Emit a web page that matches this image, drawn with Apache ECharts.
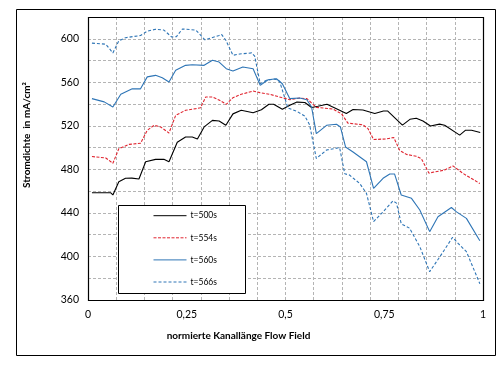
<!DOCTYPE html>
<html>
<head>
<meta charset="utf-8">
<script src="https://cdn.jsdelivr.net/npm/echarts@6/dist/echarts.min.js"></script>
<style>
html,body{margin:0;padding:0;background:#fff;}
#c{width:502px;height:372px;}
</style>
</head>
<body>
<div id="c"></div>
<script>
// ---- data ----
const seriesNames = ['t=500s', 't=554s', 't=560s', 't=566s'];
const xTickLabels = ['0', '0,25', '0,5', '0,75', '1'];

const x500 = [0.01,0.057,0.063,0.078,0.095,0.111,0.129,0.146,0.171,0.192,0.205,0.226,0.247,0.264,0.277,0.294,0.315,0.332,0.349,0.367,0.388,0.418,0.439,0.458,0.470,0.492,0.511,0.529,0.549,0.566,0.582,0.605,0.629,0.654,0.671,0.696,0.726,0.748,0.759,0.796,0.815,0.831,0.848,0.867,0.890,0.903,0.941,0.956,0.971,0.993];
const y500 = [458.6,458.6,456.5,468.7,471.8,472.0,471.2,487.0,489.2,489.2,487.0,505.0,509.7,509.7,508.0,519.0,525.0,524.4,520.5,531.0,534.3,532.0,534.8,539.8,539.8,535.2,538.9,541.8,541.5,536.8,538.0,539.8,535.8,531.3,535.0,534.5,531.3,533.6,533.6,520.7,526.0,527.0,524.4,519.8,521.6,520.5,511.5,516.0,516.0,513.8];

const x554 = [0.01,0.045,0.063,0.078,0.104,0.133,0.150,0.167,0.184,0.205,0.222,0.247,0.273,0.285,0.298,0.315,0.333,0.350,0.367,0.388,0.418,0.435,0.460,0.490,0.511,0.536,0.554,0.578,0.620,0.642,0.658,0.696,0.709,0.723,0.755,0.774,0.789,0.806,0.831,0.844,0.863,0.903,0.924,0.949,0.992];
const y554 = [491.8,490.5,485.6,499.0,503.0,504.0,515.9,520.5,519.0,513.4,529.7,534.3,535.8,536.7,546.5,546.5,543.5,539.8,545.9,549.0,552.0,550.5,549.0,546.0,544.0,545.5,545.0,537.0,535.5,531.0,522.5,521.0,517.4,507.4,508.0,509.3,497.5,493.8,492.0,489.8,476.6,479.4,483.2,476.4,467.0];

const x560 = [0.01,0.041,0.063,0.083,0.112,0.133,0.150,0.171,0.188,0.205,0.222,0.247,0.264,0.294,0.315,0.332,0.350,0.367,0.392,0.418,0.436,0.456,0.477,0.492,0.511,0.536,0.554,0.566,0.578,0.604,0.629,0.639,0.652,0.671,0.705,0.723,0.747,0.764,0.776,0.793,0.819,0.840,0.865,0.886,0.920,0.933,0.958,0.992];
const y560 = [545.0,542.0,537.3,549.0,554.0,554.0,565.0,566.4,564.2,560.3,571.0,575.6,576.2,575.6,580.2,578.6,572.5,570.4,574.0,572.5,557.2,562.4,563.3,558.7,545.0,545.6,544.0,537.3,512.8,520.5,521.4,519.0,500.6,496.0,487.0,462.6,471.8,475.8,475.8,456.5,453.4,442.7,422.8,436.5,445.0,441.0,435.0,414.5];

const x566 = [0.01,0.045,0.063,0.078,0.095,0.133,0.150,0.171,0.192,0.212,0.224,0.239,0.273,0.296,0.332,0.338,0.349,0.367,0.384,0.414,0.422,0.436,0.452,0.473,0.485,0.506,0.528,0.549,0.561,0.578,0.604,0.637,0.650,0.662,0.688,0.705,0.723,0.747,0.772,0.781,0.793,0.814,0.840,0.865,0.891,0.923,0.937,0.958,0.992];
const y566 = [596.0,595.0,587.0,598.0,601.0,603.0,607.0,608.7,608.0,601.6,602.0,609.0,608.0,599.0,603.0,604.0,598.6,584.8,586.0,587.0,584.0,558.7,562.0,563.0,561.0,536.5,533.5,529.0,521.0,490.0,497.8,500.0,476.0,474.8,467.0,458.0,432.0,441.0,451.0,449.0,430.0,426.0,409.0,386.0,399.8,417.6,412.0,404.4,375.0];

const colors = ['#000000', '#e0242f', '#2e75b6', '#2e75b6'];
const dashes = ['solid', [3, 1.5], 'solid', [3, 2]];

function pairs(xs, ys) { return xs.map((x, i) => [x, ys[i]]); }
const allData = [pairs(x500, y500), pairs(x554, y554), pairs(x560, y560), pairs(x566, y566)];

const FONT = 'Lato, "Liberation Sans", sans-serif';
const chart = echarts.init(document.getElementById('c'), null, {renderer: 'canvas'});

const option = {
  animation: false,
  backgroundColor: '#ffffff',
  grid: {left: 88, right: 19, top: 17, bottom: 72, show: false},
  xAxis: [
    {
      type: 'value', min: 0, max: 1, interval: 0.25,
      axisLine: {show: false}, axisTick: {show: false}, splitLine: {show: false},
      axisLabel: {
        margin: 9, color: '#000', fontFamily: FONT, fontSize: 10.5,
        formatter: v => xTickLabels[Math.round(v / 0.25)]
      }
    },
    {
      type: 'value', min: 0, max: 14, interval: 1, position: 'top',
      axisLine: {show: false}, axisTick: {show: false}, axisLabel: {show: false},
      splitLine: {show: true, lineStyle: {color: '#b4b4b4', type: [3, 2], width: 1}}
    }
  ],
  yAxis: {
    type: 'value', min: 360, max: 620, interval: 20,
    axisLine: {show: false}, axisTick: {show: false},
    axisLabel: {
      margin: 9, color: '#000', fontFamily: FONT, fontSize: 10.5,
      formatter: v => (v % 40 === 0 ? String(v) : '')
    },
    splitLine: {show: true, lineStyle: {color: '#b4b4b4', type: [3, 2], width: 1}}
  },
  legend: {
    orient: 'vertical', left: 153, top: 210.7, padding: 0,
    itemWidth: 33, itemHeight: 10, itemGap: 12.1,
    data: seriesNames,
    itemStyle: {opacity: 0},
    lineStyle: {width: 1},
    textStyle: {color: '#000', fontFamily: FONT, fontSize: 8.5, lineHeight: 10, padding: [0, 0, 0, -1]},
    z: 20
  },
  graphic: [
    {type: 'rect', z: 0, shape: {x: 16.5, y: 9.5, width: 479, height: 346},
      style: {fill: 'none', stroke: '#000', lineWidth: 1}},
    {type: 'rect', z: 10, shape: {x: 118.5, y: 205.5, width: 127, height: 88},
      style: {fill: '#fff', stroke: '#000', lineWidth: 1}},
    {type: 'rect', z: 11, shape: {x: 88.5, y: 17.5, width: 395, height: 283},
      style: {fill: 'none', stroke: '#000', lineWidth: 1.2}},
    {type: 'text', z: 11, x: 27, y: 135, rotation: Math.PI / 2,
      style: {text: 'Stromdichte  in mA/cm²', font: 'bold 10px ' + FONT, fill: '#000',
        align: 'center', verticalAlign: 'middle'}},
    {type: 'text', z: 11, x: 238.5, y: 335.5,
      style: {text: 'normierte Kanallänge Flow Field', font: 'bold 10px ' + FONT, fill: '#000',
        align: 'center', verticalAlign: 'middle'}}
  ],
  series: seriesNames.map((n, i) => ({
    name: n, type: 'line', xAxisIndex: 0, yAxisIndex: 0,
    data: allData[i], showSymbol: false, symbol: 'none',
    lineStyle: {color: colors[i], width: 1.1, type: dashes[i]},
    itemStyle: {color: colors[i]},
    z: 5
  }))
};
chart.setOption(option);
</script>
</body>
</html>
